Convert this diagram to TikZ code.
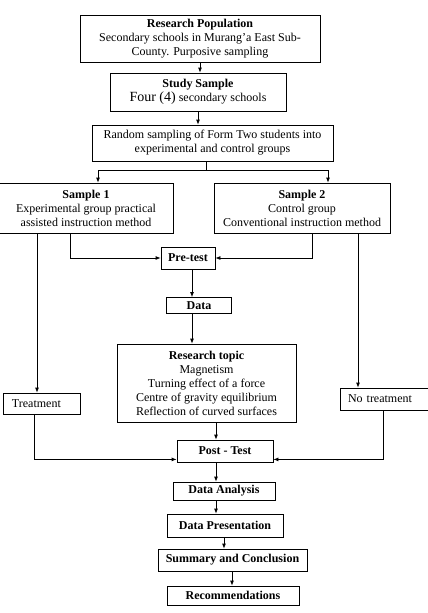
\documentclass[tikz,border=0pt]{standalone}
\usepackage{fontspec}
\setmainfont{Liberation Serif}
\usetikzlibrary{arrows.meta}

\begin{document}
\begin{tikzpicture}[x=1pt, y=-1pt,
  every node/.style={font=\fontsize{12}{14}\selectfont},
  box/.style={draw, line width=0.8pt, align=center, inner sep=1pt},
  sidebox/.style={draw, line width=0.8pt, align=left, inner ysep=1pt},
  line/.style={line width=0.8pt},
  arrow/.style={line, -{Latex[length=5pt, width=4pt]}}
]

\useasboundingbox (0,0) rectangle (428,613);

% boxes
\node [box, minimum width=240pt, minimum height=47pt] (population) at (200,38.5)
  {\textbf{Research Population}\\Secondary schools in Murang’a East Sub-\\County. Purposive sampling};
\node [box, minimum width=176pt, minimum height=38pt] (study) at (198,92)
  {\textbf{Study Sample}\\{\fontsize{14}{14}\selectfont Four (4)} secondary schools};
\node [box, minimum width=241pt, minimum height=36pt] (random) at (212.5,143)
  {Random sampling of Form Two students into\\experimental and control groups};
\node [box, minimum width=174pt, minimum height=50pt] (sample1) at (86,208)
  {\textbf{Sample 1}\\Experimental group practical\\assisted instruction method};
\node [box, minimum width=176pt, minimum height=50pt] (sample2) at (302,208)
  {\textbf{Sample 2}\\Control group\\Conventional instruction method};
\node [box, minimum width=54pt, minimum height=22pt] (pretest) at (188,258) {\textbf{Pre-test}};
\node [box, minimum width=65pt, minimum height=16pt] (data) at (199,305.5) {\textbf{Data}};
\node [box, minimum width=179pt, minimum height=78pt] (topic) at (206.5,383)
  {\textbf{Research topic}\\Magnetism\\Turning effect of a force\\Centre of gravity equilibrium\\Reflection of curved surfaces};
\node [sidebox, text width=59pt, inner xsep=9pt, minimum height=21pt] (treatment) at (41.5,403.5) {Treatment};
\node [sidebox, text width=76pt, inner xsep=8pt, minimum height=22pt] (notreat) at (386,399) {No treatment};
\node [box, minimum width=96pt, minimum height=22pt] (posttest) at (225,451) {\textbf{Post - Test}};
\node [box, minimum width=102pt, minimum height=18pt] (analysis) at (224,491) {\textbf{Data Analysis}};
\node [box, minimum width=116pt, minimum height=23pt] (presentation) at (225,525.5) {\textbf{Data Presentation}};
\node [box, minimum width=149pt, minimum height=22pt] (summary) at (232.5,560) {\textbf{Summary and Conclusion}};
\node [box, minimum width=132pt, minimum height=19pt] (recommend) at (233,595.5) {\textbf{Recommendations}};

% connectors
\coordinate (fork) at (206,170);
\draw [arrow] (population.south) -- (population.south |- study.north);
\draw [arrow] (study.south) -- (study.south |- random.north);
\draw [line] (fork |- random.south) -- (fork);
\draw [arrow] (fork) -| ([xshift=12pt]sample1.north);
\draw [arrow] (fork) -| ([xshift=26pt]sample2.north);
\draw [arrow] ([xshift=-16pt]sample1.south) |- (pretest.west);
\draw [arrow] ([xshift=10pt]sample2.south) |- (pretest.east);
\draw [arrow] ([xshift=-49pt]sample1.south) -- ([xshift=-49pt]sample1.south |- treatment.north);
\draw [arrow] ([xshift=56pt]sample2.south) -- ([xshift=56pt]sample2.south |- notreat.north);
\draw [arrow] ([xshift=4pt]pretest.south) -- ([xshift=4pt]pretest.south |- data.north);
\draw [arrow] ([xshift=-7pt]data.south) -- ([xshift=-7pt]data.south |- topic.north);
\draw [arrow] ([xshift=-7pt]treatment.south) |- ([yshift=3pt]posttest.south west);
\draw [arrow] ([xshift=-3pt]notreat.south) |- ([yshift=3pt]posttest.south east);
\draw [arrow] ([xshift=9.5pt]topic.south) -- ([xshift=9.5pt]topic.south |- posttest.north);
\draw [arrow] ([xshift=-9pt]posttest.south) -- ([xshift=-9pt]posttest.south |- analysis.north);
\draw [arrow] ([xshift=-8pt]analysis.south) -- ([xshift=-8pt]analysis.south |- presentation.north);
\draw [arrow] ([xshift=-1pt]presentation.south) -- ([xshift=-1pt]presentation.south |- summary.north);
\draw [arrow] ([xshift=-0.5pt]summary.south) -- ([xshift=-0.5pt]summary.south |- recommend.north);

\end{tikzpicture}
\end{document}
